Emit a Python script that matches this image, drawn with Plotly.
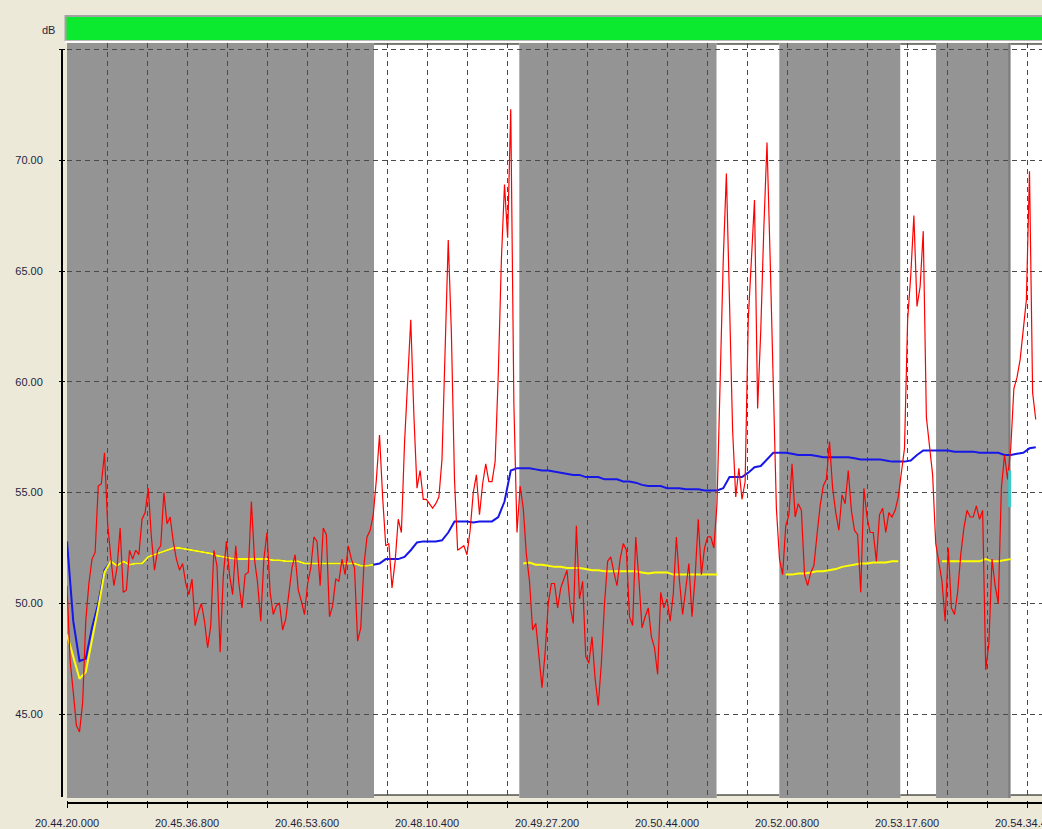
import plotly.graph_objects as go

# ---------------- data ----------------
# red: instantaneous level, one value every 2 s from 20.44.20.000
red_step = 2.0
red_values = [
    50.8, 47.4, 46.0, 44.5, 44.2, 45.5, 49.2, 50.9, 52.0, 52.3,
    55.3, 55.4, 56.8, 53.6, 52.1, 50.8, 51.6, 53.4, 50.5, 50.6,
    52.4, 52.0, 52.4, 52.2, 53.8, 54.1, 55.2, 53.0, 51.5, 52.4,
    52.6, 55.0, 53.6, 53.9, 52.8, 52.0, 51.5, 51.8, 50.9, 50.4,
    51.1, 49.0, 49.6, 50.0, 49.2, 48.0, 49.0, 52.4, 51.7, 47.8,
    51.2, 52.8, 51.3, 50.4, 52.6, 50.9, 49.8, 51.3, 51.4, 54.6,
    52.0, 50.9, 49.2, 52.0, 53.2, 50.5, 49.5, 49.9, 50.0, 48.8,
    49.3, 50.4, 51.6, 52.2, 50.6, 50.1, 49.5, 50.9, 51.6, 53.0,
    52.8, 50.8, 53.4, 53.1, 49.4, 49.9, 51.1, 51.0, 52.0, 51.3,
    52.6, 52.0, 51.6, 48.3, 48.9, 51.7, 53.0, 53.3, 54.0, 55.6,
    57.6, 54.8, 52.6, 52.7, 50.7, 51.9, 53.8, 53.2, 57.2, 60.0,
    62.8, 58.5, 55.2, 56.0, 54.7, 54.7, 54.5, 54.3, 54.5, 54.8,
    56.5, 61.7, 66.4, 62.2, 55.6, 52.4, 52.5, 52.6, 52.2, 53.3,
    55.0, 55.8, 54.0, 55.4, 56.3, 55.5, 55.5, 56.4, 60.3, 65.5,
    68.9, 66.5, 72.3, 59.0, 53.2, 55.3, 54.3, 52.2, 51.0, 48.8,
    49.1, 47.5, 46.2, 47.8, 50.0, 50.9, 50.9, 49.8, 50.7, 51.1,
    51.5, 49.9, 49.1, 53.5, 50.2, 51.0, 47.6, 47.3, 48.5, 46.6,
    45.4, 47.3, 50.0, 51.9, 52.1, 51.4, 50.8, 52.0, 52.7, 52.4,
    49.4, 49.0, 53.0, 51.1, 48.9, 49.4, 49.8, 48.5, 48.0, 46.8,
    50.5, 49.8, 50.2, 49.2, 50.4, 53.0, 51.0, 49.5, 50.8, 51.8,
    49.4, 51.2, 53.8, 51.3, 52.5, 53.0, 53.0, 52.5, 54.5, 60.5,
    65.5, 69.4, 63.0, 57.8, 54.8, 56.1, 54.7, 55.5, 62.8, 65.8,
    68.2, 58.8, 62.3, 67.0, 70.8, 65.6, 60.0, 54.3, 52.0, 51.3,
    53.5, 54.0, 56.3, 53.9, 54.5, 54.2, 51.3, 50.8, 51.4, 51.7,
    53.1, 54.4, 55.3, 55.6, 57.3, 55.2, 54.1, 53.3, 54.9, 54.5,
    56.0, 54.2, 53.3, 53.1, 50.5, 55.2, 53.9, 53.2, 53.2, 51.9,
    54.0, 54.3, 53.2, 54.1, 53.9, 54.2, 54.8, 56.0, 57.0, 62.8,
    64.8, 67.5, 63.4, 64.3, 66.8, 58.4, 57.0, 55.8, 52.7, 51.8,
    51.0, 49.2, 52.5, 49.8, 49.5, 50.5, 52.2, 53.4, 54.2, 53.9,
    53.9, 54.4, 53.8, 54.2, 47.0, 48.2, 52.0, 50.8, 50.0, 55.2,
    56.7, 55.6, 57.0, 59.7, 60.2, 61.0, 62.3, 63.7, 69.5, 59.5,
    58.3,
]

# blue and yellow running Leq, one value every 4 s
leq_step = 4.0
blue_values = [
    52.8, 49.2, 47.4, 47.5, 48.9, 50.0, 51.5, 51.9, 51.7, 51.9,
    51.75, 51.8, 51.8, 52.1, 52.2, 52.3, 52.4, 52.5, 52.5, 52.45,
    52.4, 52.35, 52.3, 52.25, 52.15, 52.1, 52.05, 52.0, 52.0, 52.0,
    52.0, 52.0, 52.0, 51.95, 51.95, 51.9, 51.9, 51.9, 51.8, 51.8,
    51.8, 51.8, 51.8, 51.8, 51.8, 51.8, 51.8, 51.7, 51.7, 51.75,
    51.8, 52.0, 52.0, 52.0, 52.1, 52.4, 52.75, 52.8, 52.8, 52.8,
    52.85, 53.2, 53.7, 53.7, 53.7, 53.65, 53.7, 53.7, 53.7, 53.9,
    54.6, 56.0, 56.1, 56.1, 56.1, 56.05, 56.0, 56.0, 55.95, 55.9,
    55.85, 55.8, 55.8, 55.7, 55.7, 55.7, 55.6, 55.6, 55.6, 55.5,
    55.5, 55.45, 55.35, 55.3, 55.3, 55.3, 55.2, 55.2, 55.2, 55.15,
    55.15, 55.15, 55.1, 55.1, 55.1, 55.2, 55.7, 55.7, 55.7, 55.9,
    56.15, 56.2, 56.5, 56.8, 56.8, 56.8, 56.75, 56.7, 56.7, 56.7,
    56.65, 56.6, 56.6, 56.6, 56.6, 56.6, 56.55, 56.5, 56.5, 56.5,
    56.5, 56.45, 56.4, 56.4, 56.4, 56.45, 56.7, 56.9, 56.9, 56.9,
    56.9, 56.9, 56.85, 56.85, 56.85, 56.85, 56.8, 56.8, 56.8, 56.8,
    56.7, 56.7, 56.75, 56.8, 57.0, 57.05,
]

yellow_values = [
    48.6, 47.6, 46.6, 46.9, 48.3, 49.8, 51.4, 51.9, 51.7, 51.9,
    51.75, 51.8, 51.8, 52.1, 52.2, 52.3, 52.4, 52.5, 52.5, 52.45,
    52.4, 52.35, 52.3, 52.25, 52.15, 52.1, 52.05, 52.0, 52.0, 52.0,
    52.0, 52.0, 52.0, 51.95, 51.95, 51.9, 51.9, 51.9, 51.8, 51.8,
    51.8, 51.8, 51.8, 51.8, 51.8, 51.8, 51.8, 51.7, 51.7, 51.75,
    None, None, None, None, None, None, None, None, None, None,
    None, None, None, None, None, None, None, None, None, None,
    None, None, None,
    51.8, 51.85, 51.75, 51.75, 51.7, 51.65, 51.65, 51.6, 51.6, 51.6,
    51.55, 51.5, 51.5, 51.45, 51.45, 51.45, 51.45, 51.45, 51.45, 51.4,
    51.35, 51.4, 51.4, 51.4, 51.3, 51.3, 51.3, 51.3, 51.3, 51.3,
    51.3, 51.3,
    None, None, None, None, None, None, None, None, None, None,
    51.3, 51.3, 51.35, 51.35, 51.4, 51.45, 51.45, 51.5, 51.55, 51.65,
    51.7, 51.75, 51.8, 51.8, 51.85, 51.85, 51.85, 51.9, 51.9,
    None, None, None, None, None, None,
    51.9, 51.9, 51.9, 51.9, 51.9, 51.9, 51.9, 52.0, 51.9, 51.9,
    51.95, 52.0,
    None, None, None, None,
]

# cyan marker segment
cyan_time = [603.3, 603.3]
cyan_values = [54.35, 56.0]

# marked periods (seconds from start)
band_start = [0.0, 196.5, 289.5, 415.8, 455.9, 533.4, 556.2, 603.9]
band_end = [196.5, 289.5, 415.8, 455.9, 533.4, 556.2, 603.9, 624.0]
band_kind = ["gray", "white", "gray", "white", "gray", "white", "gray", "white"]

x_tick_vals = [0.0, 76.8, 153.6, 230.4, 307.2, 384.0, 460.8, 537.6, 614.4]
x_tick_labels = ["20.44.20.000", "20.45.36.800", "20.46.53.600", "20.48.10.400",
                 "20.49.27.200", "20.50.44.000", "20.52.00.800", "20.53.17.600",
                 "20.54.34.400"]
y_tick_vals = [45, 50, 55, 60, 65, 70, 75]
y_tick_labels = ["45.00", "50.00", "55.00", "60.00", "65.00", "70.00", ""]

# ---------------- geometry ----------------
W, H = 1042, 829
ML, MR, MT, MB = 57, 0, 43, 25
PW = W - ML - MR      # 985
PH = H - MT - MB      # 761

def px_x(p):   # pixel x -> paper
    return (p - ML) / PW

def px_y(p):   # pixel y -> paper
    return (H - MB - p) / PH

BG = "#ECE9D8"
GRAY = "#949494"
GRID = "#4a4a4a"
TXT = "#1f1f40"
FONT = "Liberation Sans"

red_t = [i * red_step for i in range(len(red_values))]
leq_t = [j * leq_step for j in range(len(blue_values))]

fig = go.Figure()
fig.add_trace(go.Scatter(x=leq_t, y=blue_values, mode="lines",
                         line=dict(color="#1717E8", width=2), hoverinfo="skip"))
fig.add_trace(go.Scatter(x=leq_t, y=yellow_values, mode="lines", connectgaps=False,
                         line=dict(color="#FFFF00", width=2), hoverinfo="skip"))
fig.add_trace(go.Scatter(x=red_t, y=red_values, mode="lines",
                         line=dict(color="#FF0000", width=1.2), hoverinfo="skip"))
fig.add_trace(go.Scatter(x=cyan_time, y=cyan_values, mode="lines",
                         line=dict(color="#3CCACA", width=3), hoverinfo="skip"))

shapes = []
inset_bottom = 3 / 755
inset_top = 1 - 1 / 755
for s, e, k in zip(band_start, band_end, band_kind):
    if k == "gray":
        shapes.append(dict(type="rect", xref="x", yref="y domain", x0=s, x1=e, y0=0, y1=1,
                           fillcolor=GRAY, line=dict(width=0), layer="below"))
    else:
        shapes.append(dict(type="rect", xref="x", yref="y domain", x0=s, x1=e,
                           y0=inset_bottom, y1=inset_top,
                           fillcolor="white", line=dict(width=0), layer="below"))
        for yy in (inset_bottom, inset_top):
            shapes.append(dict(type="line", xref="x", yref="y domain", x0=s, x1=e,
                               y0=yy, y1=yy, line=dict(color="black", width=1),
                               layer="below"))
# darker edge at the end of the last gray band
shapes.append(dict(type="line", xref="x", yref="y domain", x0=band_end[6] - 0.8,
                   x1=band_end[6] - 0.8, y0=0, y1=1,
                   line=dict(color="#7c7c7c", width=2), layer="below"))
# y axis line (offset left of plot)
shapes.append(dict(type="line", xref="paper", yref="paper", x0=px_x(62), x1=px_x(62),
                   y0=px_y(797), y1=px_y(50), line=dict(color="black", width=2)))
# x axis line (offset below plot)
shapes.append(dict(type="line", xref="paper", yref="paper", x0=px_x(67), x1=1.0,
                   y0=px_y(803), y1=px_y(803), line=dict(color="black", width=2)))
# green level bar
shapes.append(dict(type="rect", xref="paper", yref="paper", x0=px_x(65.5), x1=1.01,
                   y0=px_y(41), y1=px_y(16), fillcolor="#0BEA2F",
                   line=dict(color="#A2A2A2", width=2)))
shapes.append(dict(type="line", xref="paper", yref="paper", x0=px_x(64.5), x1=1.0,
                   y0=px_y(41.8), y1=px_y(41.8), line=dict(color="white", width=2)))

fig.update_layout(
    width=W, height=H, autosize=False,
    margin=dict(l=ML, r=MR, t=MT, b=MB, pad=0, autoexpand=False),
    paper_bgcolor=BG, plot_bgcolor=BG,
    showlegend=False, hovermode=False,
    shapes=shapes,
    annotations=[dict(text="dB", xref="paper", yref="paper", x=0, y=px_y(30),
                      xanchor="right", yanchor="middle", showarrow=False,
                      font=dict(family=FONT, size=11, color=TXT))],
    xaxis=dict(
        domain=[px_x(67), 1.0], range=[0, 624], anchor="free", position=px_y(800),
        automargin=False,
        tickmode="array", tickvals=x_tick_vals, ticktext=x_tick_labels,
        ticks="outside", ticklen=7, tickwidth=1, tickcolor="black",
        showgrid=True, gridcolor=GRID, gridwidth=1, griddash="5px,4px",
        minor=dict(tickmode="linear", tick0=0, dtick=25.6, ticks="outside", ticklen=7,
                   tickwidth=1, tickcolor="black", showgrid=True, gridcolor=GRID,
                   gridwidth=1, griddash="5px,4px"),
        showline=False, zeroline=False,
        tickfont=dict(family=FONT, size=11, color=TXT),
        ticklabeloverflow="allow", ticklabelstandoff=6,
    ),
    yaxis=dict(
        domain=[px_y(798), 1.0], range=[41.22, 75.29], anchor="free", position=px_x(65),
        automargin=False,
        tickmode="array", tickvals=y_tick_vals, ticktext=y_tick_labels,
        ticks="outside", ticklen=6, tickwidth=1, tickcolor="black",
        showgrid=True, gridcolor=GRID, gridwidth=1, griddash="5px,4px",
        showline=False, zeroline=False,
        tickfont=dict(family=FONT, size=11, color=TXT),
        ticklabelstandoff=14,
    ),
)

fig.write_html(
    "out.html",
    config={"displayModeBar": False},
    post_script="document.body.style.margin='0';document.body.style.overflow='hidden';",
)
